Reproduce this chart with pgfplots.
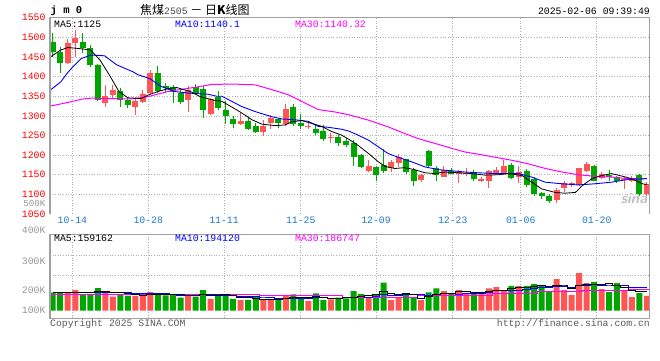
\documentclass[border=0pt]{standalone}
\usepackage{pgfplots}
\pgfplotsset{compat=1.18}
\usepackage{pgfplotstable}
\usepackage{fontspec}
\newfontfamily\mono{Liberation Mono}
\newfontfamily\cjk{Noto Sans CJK SC}
\newcommand\mf{\mono\fontsize{9.8}{10}\selectfont}
\definecolor{cred}{RGB}{255,85,85}
\definecolor{cgreen}{RGB}{0,165,0}
\definecolor{tickblue}{RGB}{30,120,200}
\definecolor{framegray}{RGB}{160,160,160}
\definecolor{gridc}{RGB}{175,175,175}
\definecolor{vgray}{RGB}{150,150,150}
\definecolor{mag}{RGB}{255,0,255}

% i o c h l v  (up days, close >= open)
\pgfplotstableread{
i o c h l v
2 1434 1485 1495 1432 160
3 1486 1499 1518 1451 184
7 1333 1350 1378 1322 175
8 1353 1366 1378 1345 125
11 1323 1338 1349 1302 132
12 1336 1355 1367 1334 132
13 1359 1408 1418 1356 166
18 1340 1366 1376 1310 139
21 1304 1343 1345 1302 105
25 1280 1288 1307 1277 95
28 1260 1275 1290 1249 102
29 1283 1295 1303 1267 95
31 1280 1318 1329 1273 130
34 1271 1274 1281 1266 88
37 1244 1247 1256 1232 101
42 1159 1172 1187 1158 119
45 1166 1183 1187 1156 95
46 1180 1194 1204 1170 119
49 1136 1149 1153 1132 95
52 1145 1162 1173 1143 175
54 1153 1156 1162 1129 184
55 1151 1155 1168 1146 154
57 1134 1140 1143 1131 154
58 1134 1160 1162 1115 199
59 1153 1162 1170 1151 211
60 1155 1172 1187 1152 184
62 1145 1158 1172 1128 220
67 1086 1112 1116 1078 282
68 1117 1129 1133 1105 184
69 1124 1128 1131 1120 139
70 1124 1166 1168 1122 335
71 1159 1178 1182 1157 246
73 1141 1153 1157 1140 193
76 1136 1140 1144 1114 184
77 1134 1141 1146 1131 122
79 1101 1127 1131 1097 131
}\redtab

% down days
\pgfplotstableread{
i o c h l v
0 1489 1463 1512 1451 160
1 1462 1435 1476 1410 157
4 1487 1472 1510 1459 146
5 1472 1429 1480 1425 150
6 1430 1340 1431 1338 202
9 1364 1340 1372 1323 142
10 1340 1328 1349 1319 134
14 1410 1364 1427 1357 157
15 1376 1370 1383 1357 137
16 1373 1361 1378 1332 139
17 1357 1336 1370 1330 116
19 1373 1359 1381 1355 125
20 1368 1316 1376 1295 184
22 1348 1320 1364 1315 142
23 1316 1300 1337 1279 142
24 1292 1280 1300 1268 104
26 1288 1267 1294 1264 95
27 1273 1260 1281 1256 122
30 1292 1283 1294 1268 98
32 1322 1280 1331 1273 146
33 1283 1273 1304 1266 107
35 1267 1257 1277 1250 154
36 1262 1241 1277 1236 95
38 1247 1232 1251 1223 116
39 1236 1226 1243 1220 110
40 1231 1194 1238 1172 175
41 1200 1170 1204 1166 148
43 1170 1149 1173 1134 148
44 1174 1160 1215 1155 249
47 1190 1157 1191 1153 139
48 1163 1134 1166 1122 119
50 1210 1173 1214 1168 163
51 1168 1149 1173 1134 199
53 1160 1153 1168 1151 154
56 1155 1139 1163 1134 163
61 1176 1142 1179 1138 220
63 1160 1124 1165 1120 220
64 1140 1100 1144 1096 237
65 1103 1095 1106 1088 220
66 1097 1082 1100 1078 175
72 1172 1135 1176 1133 255
74 1150 1144 1161 1133 166
75 1144 1133 1148 1129 246
78 1150 1101 1153 1097 157
}\greentab

\begin{document}
\begin{tikzpicture}
\useasboundingbox (0,0) rectangle (660pt,360pt);

% ---------------- price panel ----------------
\begin{axis}[
  at={(50pt,146pt)}, anchor=south west,
  scale only axis, width=599.3pt, height=196.3pt,
  xmin=-0.36, xmax=79.33, ymin=1050, ymax=1550,
  axis line style={draw=none},
  major tick length=0pt,
  xtick={2.61,12.71,22.78,32.98,42.99,53.19,62.23,72.34},
  xticklabels={10-14,10-28,11-11,11-25,12-09,12-23,01-06,01-20},
  ytick={1050,1100,1150,1200,1250,1300,1350,1400,1450,1500,1550},
  yticklabels={1050,1100,1150,1200,1250,1300,1350,1400,1450,1500,1550},
  extra y ticks={1100,1150,1200,1250,1300,1350,1400,1450,1500},
  extra y tick labels={},
  extra y tick style={ymajorgrids=true},
  xmajorgrids=true, ymajorgrids=false,
  grid style={gridc, line width=0.7pt, dash pattern=on 1pt off 1.6pt},
  xticklabel style={font=\mf, text=tickblue, anchor=center, yshift=-6.5pt},
  yticklabel style={font=\mf, text=red, inner sep=0pt, anchor=east, xshift=-4.3pt},
]
% wicks
\addplot[draw=none, mark=none, error bars/.cd, y dir=plus, y explicit, error mark=none,
  error bar style={line width=1pt, draw=cred}]
  table[x=i, y=l, y error plus expr=\thisrow{h}-\thisrow{l}] {\redtab};
\addplot[draw=none, mark=none, error bars/.cd, y dir=plus, y explicit, error mark=none,
  error bar style={line width=1pt, draw=cgreen}]
  table[x=i, y=l, y error plus expr=\thisrow{h}-\thisrow{l}] {\greentab};
% bodies
\addplot[draw=none, mark=none, error bars/.cd, y dir=plus, y explicit, error mark=none,
  error bar style={line width=6pt, draw=cred}]
  table[x=i, y=o, y error plus expr=\thisrow{c}-\thisrow{o}] {\redtab};
\addplot[draw=none, mark=none, error bars/.cd, y dir=plus, y explicit, error mark=none,
  error bar style={line width=6pt, draw=cgreen}]
  table[x=i, y=c, y error plus expr=\thisrow{o}-\thisrow{c}] {\greentab};
% MA30
\addplot[mag, line width=1pt, mark=none] coordinates {
(-0.3,1325) (2,1334) (4,1343) (5.1,1345) (10.5,1343) (12.7,1349) (15.3,1362) (18,1370) (20,1376) (21.1,1380) (24,1381) (26.9,1379) (29.1,1367) (31.3,1354) (33.1,1337) (35.3,1316) (37.5,1310) (39.3,1303) (42,1289) (44.6,1272) (46.8,1255) (48.6,1242) (50.8,1230) (53.1,1217) (54.8,1208) (57,1201) (58.4,1196) (61,1187) (63.2,1178) (65.5,1166) (67.7,1157) (69.9,1150) (72.1,1146) (74.3,1144) (76.5,1140) (79,1140)
};
% MA10
\addplot[blue, line width=0.9pt, mark=none] coordinates {
(-0.3,1366) (1.1,1387) (1.9,1408) (2.5,1421) (3.8,1446) (5.1,1455) (6.9,1453) (7.8,1440) (8.5,1430) (9.6,1421) (10.7,1412) (11.3,1405) (12.9,1395) (14.4,1375) (16.2,1362) (18,1358) (19.8,1356) (20.7,1355) (21.8,1350) (22.5,1350) (23.8,1337) (25.1,1324) (26.9,1311) (29.1,1298) (30.5,1292) (32.2,1290) (34,1286) (35.3,1273) (36.6,1271) (38.4,1266) (39.4,1261) (40.6,1251) (42,1238) (43.3,1221) (44.6,1204) (46,1194) (47.7,1183) (49.5,1170) (51.3,1163) (53.1,1160) (54.8,1157) (56.6,1155) (58.8,1153) (61.9,1153) (63.7,1144) (65.5,1131) (67.7,1127) (69.9,1124) (72.1,1127) (74.3,1131) (76.5,1138) (79,1140)
};
% MA5
\addplot[black, line width=0.8pt, mark=none] coordinates {
(-0.3,1450) (1,1467) (2,1474) (3.2,1472) (5,1468) (6.3,1442) (7.6,1402) (8.8,1362) (10,1346) (11.8,1344) (12.7,1353) (14,1362) (15.5,1370) (16.5,1372) (18.3,1362) (19.6,1349) (21.4,1340) (22.5,1337) (23.5,1326) (25,1309) (26.5,1290) (27.8,1279) (29.6,1275) (30.9,1277) (31.8,1285) (33.1,1288) (34.4,1281) (35.8,1273) (37.1,1260) (38.4,1251) (39.4,1240) (40.6,1225) (42,1204) (43.3,1183) (44.2,1171) (45.5,1166) (46.8,1168) (48.1,1163) (49.5,1155) (50.8,1153) (52.2,1157) (53.9,1155) (55.7,1153) (57.5,1149) (59.3,1150) (60.6,1153) (62.4,1148) (63.7,1131) (65,1114) (66.8,1105) (68.1,1103) (69.5,1105) (70.4,1122) (71.7,1140) (73,1148) (74.3,1153) (75.6,1147) (77,1140) (78.4,1127) (79,1125)
};
\end{axis}

% ---------------- volume panel ----------------
\begin{axis}[
  at={(50pt,41.7pt)}, anchor=south west,
  scale only axis, width=599.3pt, height=84pt,
  xmin=-0.36, xmax=79.33, ymin=-67.6, ymax=680,
  axis line style={draw=none},
  major tick length=0pt,
  xtick={2.61,12.71,22.78,32.98,42.99,53.19,62.23,72.34},
  xticklabels={},
  ytick={318,496}, yticklabels={},
  grid=major,
  grid style={gridc, line width=0.7pt, dash pattern=on 1pt off 1.6pt},
]
\addplot[ybar, bar width=6pt, bar shift=0pt, fill=cred, draw=none] table[x=i, y=v] {\redtab};
\addplot[ybar, bar width=6pt, bar shift=0pt, fill=cgreen, draw=none] table[x=i, y=v] {\greentab};
\addplot[mag, line width=1pt, mark=none, const plot] coordinates {
(-0.36,145) (27.5,133) (38.5,120) (48.5,132) (53.5,139) (58.5,157) (64.5,175) (70.5,181) (76.5,187) (79.33,187)
};
\addplot[blue, line width=1pt, mark=none, const plot mark mid] coordinates {
(0,160)(1,160)(2,161)(3,162)(4,162)(5,160)(6,160)(7,161)(8,160)(9,160)(10,158)(11,155)(12,152)(13,150)(14,152)(15,150)(16,144)(17,138)(18,139)(19,138)(20,143)(21,140)(22,141)(23,139)(24,133)(25,129)(26,125)(27,125)(28,122)(29,119)(30,110)(31,113)(32,113)(33,109)(34,108)(35,114)(36,114)(37,112)(38,113)(39,115)(40,122)(41,124)(42,121)(43,125)(44,142)(45,136)(46,138)(47,142)(48,142)(49,141)(50,139)(51,145)(52,150)(53,151)(54,144)(55,150)(56,155)(57,156)(58,164)(59,176)(60,178)(61,180)(62,184)(63,191)(64,196)(65,203)(66,204)(67,217)(68,215)(69,208)(70,223)(71,226)(72,229)(73,227)(74,220)(75,222)(76,223)(77,207)(78,204)(79,204)
};
\addplot[black, line width=1pt, mark=none, const plot mark mid] coordinates {
(0,163)(1,163)(2,162)(3,160)(4,161)(5,159)(6,168)(7,171)(8,160)(9,159)(10,156)(11,142)(12,133)(13,141)(14,144)(15,145)(16,146)(17,143)(18,138)(19,131)(20,141)(21,134)(22,139)(23,140)(24,135)(25,118)(26,116)(27,112)(28,104)(29,102)(30,102)(31,109)(32,114)(33,115)(34,114)(35,125)(36,118)(37,109)(38,111)(39,115)(40,119)(41,130)(42,134)(43,140)(44,168)(45,152)(46,146)(47,150)(48,144)(49,113)(50,127)(51,143)(52,150)(53,157)(54,175)(55,173)(56,166)(57,162)(58,171)(59,176)(60,182)(61,194)(62,207)(63,211)(64,216)(65,223)(66,214)(67,227)(68,220)(69,200)(70,223)(71,237)(72,232)(73,234)(74,239)(75,221)(76,209)(77,182)(78,175)(79,168)
};
\end{axis}

% frames
\draw[framegray, line width=1.2pt] (50pt,146pt) -- (50pt,342.3pt) -- (649.3pt,342.3pt) -- (649.3pt,146pt);
\draw[framegray, line width=1.2pt] (50pt,41.7pt) rectangle (649.3pt,125.7pt);

% header
\node[anchor=west, inner sep=0pt, font=\mono\bfseries\fontsize{10.5}{11}\selectfont] at (50.5pt,349pt) {j m 0};
\node[anchor=west, inner sep=0pt] at (140pt,350pt) {{\cjk\fontsize{12}{12}\selectfont 焦煤}{\mf\color{black!70}2505}{\cjk\fontsize{12}{12}\selectfont\ －\ 日\textbf{K}线图}};
\node[anchor=east, inner sep=0pt, font=\mf] at (650pt,349pt) {2025-02-06 09:39:49};

% MA legends
\node[anchor=west, inner sep=0pt, font=\mf, text=black] at (54pt,336pt) {MA5:1125};
\node[anchor=west, inner sep=0pt, font=\mf, text=blue] at (175pt,336pt) {MA10:1140.1};
\node[anchor=west, inner sep=0pt, font=\mf, text=mag] at (295pt,336pt) {MA30:1140.32};
\node[anchor=west, inner sep=0pt, font=\mf, text=black] at (54pt,121.7pt) {MA5:159162};
\node[anchor=west, inner sep=0pt, font=\mf, text=blue] at (175pt,121.7pt) {MA10:194120};
\node[anchor=west, inner sep=0pt, font=\mf, text=mag] at (295pt,121.7pt) {MA30:186747};

% volume scale labels
\node[anchor=east, inner sep=0pt, font=\mono\fontsize{9.2}{10}\selectfont, text=vgray] at (45.7pt,156.2pt) {500K};
\node[anchor=east, inner sep=0pt, font=\mf, text=vgray] at (45.7pt,129.3pt) {400K};
\node[anchor=east, inner sep=0pt, font=\mf, text=vgray] at (45.7pt,98.7pt) {300K};
\node[anchor=east, inner sep=0pt, font=\mf, text=vgray] at (45.7pt,69.3pt) {200K};
\node[anchor=east, inner sep=0pt, font=\mf, text=vgray] at (45.7pt,49.7pt) {100K};

% watermark and footer
\node[font=\sffamily\bfseries\itshape\fontsize{15}{15}\selectfont, text=black!25] at (634pt,161pt) {sina};
\node[anchor=west, inner sep=0pt, font=\mf, text=black!65] at (50pt,36.5pt) {Copyright 2025 SINA.COM};
\node[anchor=east, inner sep=0pt, font=\mf, text=black!65] at (650pt,36.5pt) {http://finance.sina.com.cn};
\end{tikzpicture}
\end{document}
